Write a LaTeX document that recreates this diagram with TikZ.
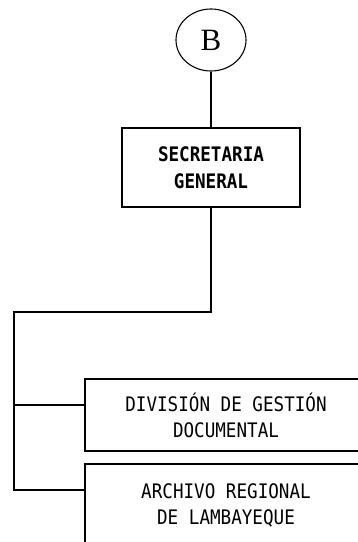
\documentclass[tikz,border=0pt]{standalone}
\usepackage{fontspec}
\newfontfamily\gothmono[FakeStretch=0.88]{DejaVu Sans Mono}
\newfontfamily\timesrm{Liberation Serif}
\usetikzlibrary{shapes.geometric}

\begin{document}
\begin{tikzpicture}[x=1pt,y=1pt,line width=1.1pt,
  caja/.style={draw,rectangle,align=center,inner sep=0pt,
    font=\gothmono\fontsize{20}{26}\selectfont},
  conector/.style={draw,line width=1.1pt}]
\clip (0,0) rectangle (358,-542);
\node[draw,ellipse,minimum width=70,minimum height=62,inner sep=0pt,
  font=\timesrm\fontsize{31}{31}\selectfont] (b) at (211,-40) {B};
\node[caja,minimum width=178,minimum height=79,font=\gothmono\bfseries\fontsize{20}{27}\selectfont]
  (sg) at (211,-167.5) {SECRETARIA\\GENERAL};
\node[caja,minimum width=282,minimum height=72] (dgd) at (226,-415)
  {DIVISIÓN DE GESTIÓN\\DOCUMENTAL};
\node[caja,minimum width=282,minimum height=82] (arl) at (226,-505)
  {ARCHIVO REGIONAL\\DE LAMBAYEQUE};
% ramas
\coordinate (codo) at (14,-312);
\path ([yshift=10]dgd.west) coordinate (rd);
\path ([yshift=15]arl.west) coordinate (ra);
\draw[conector] (b) -- (sg);
\draw[conector] (sg.south) |- (codo) -- (codo |- ra) -- (ra);
\draw[conector] (codo |- rd) -- (rd);
\end{tikzpicture}
\end{document}
